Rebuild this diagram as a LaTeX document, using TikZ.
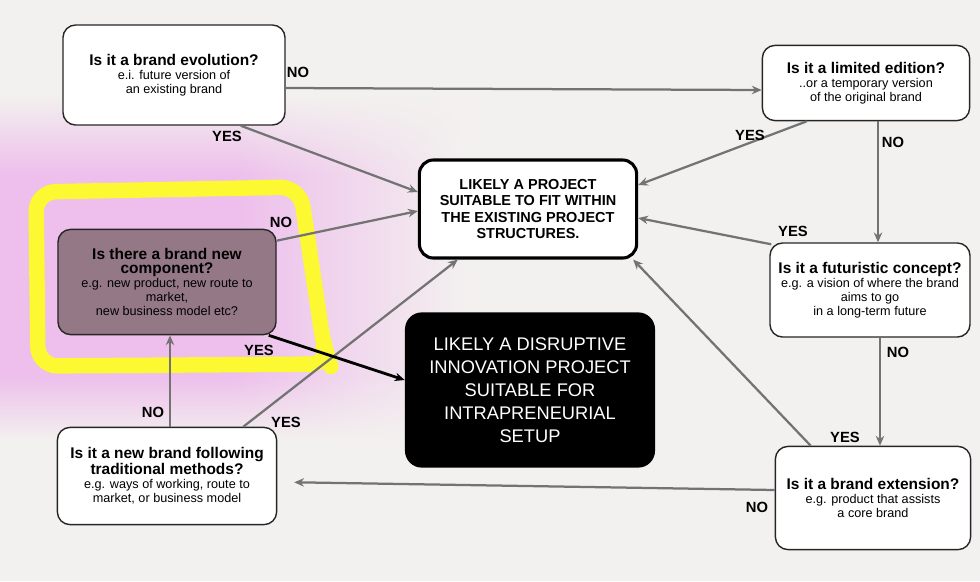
\documentclass[tikz,border=0pt]{standalone}
\usepackage{fontspec}
\setmainfont{Liberation Sans}
\usetikzlibrary{arrows.meta, calc, fadings}
\definecolor{paper}{RGB}{243,241,239}
\definecolor{pinkbg}{RGB}{238,190,236}
\definecolor{marker}{RGB}{252,248,50}
\definecolor{newcomp}{RGB}{148,120,133}
\newcommand{\qtitle}[1]{{\bfseries\fontsize{11}{11.5}\selectfont #1}}

\begin{document}
\begin{tikzpicture}[
    x=0.025cm, y=-0.025cm,
    question/.style={
        rectangle, rounded corners=9pt,
        draw=black!85, line width=1pt, fill=white,
        align=center, inner sep=2pt,
        font=\fontsize{9}{10}\selectfont
    },
    outcome/.style={
        rectangle, rounded corners=10pt,
        draw=black, line width=2.2pt, fill=white,
        align=center, font=\bfseries\fontsize{10.3}{11.8}\selectfont
    },
    arrow/.style={
        -{Stealth[length=7pt, width=6pt]}, line width=1.6pt, draw=black!55
    },
    lbl/.style={font=\bfseries\fontsize{10.5}{11}\selectfont},
    pinkwash/.style={left color=pinkbg, right color=paper, middle color=pinkbg},
    highlight/.style={draw=marker, line width=11, line cap=round, line join=round}
]
\useasboundingbox (0,0) rectangle (980,581);

% Paper and marker
\fill[paper] (0,0) rectangle (980,581);
\shade[pinkwash, path fading=north] (0,95) rectangle (470,175);
\shade[pinkwash] (0,175) rectangle (470,375);
\shade[pinkwash, path fading=south] (0,375) rectangle (470,440);
\draw[highlight, rounded corners=14] (38,366) -- (36,192) -- (300,187) -- (324,348) -- (330,364) -- cycle;

% Main components
\node[question, minimum width=5.55cm, minimum height=2.5cm] (evo) at (174,75)
    {\qtitle{Is it a brand evolution?}\\e.i. future version of\\an existing brand};
\node[question, minimum width=5.18cm, minimum height=1.88cm] (lim) at (866,83)
    {\qtitle{Is it a limited edition?}\\..or a temporary version\\of the original brand};
\node[outcome, minimum width=5.43cm, minimum height=2.45cm] (fit) at (528,209)
    {LIKELY A PROJECT\\SUITABLE TO FIT WITHIN\\THE EXISTING PROJECT\\STRUCTURES.};
\node[question, fill=newcomp, minimum width=5.45cm, minimum height=2.63cm] (comp) at (167,282)
    {\qtitle{Is there a brand new}\\\qtitle{component?}\\e.g. new product, new route to\\market,\\new business model etc?};
\node[question, minimum width=5.0cm, minimum height=2.35cm] (fut) at (870,290)
    {\qtitle{Is it a futuristic concept?}\\e.g. a vision of where the brand\\aims to go\\in a long-term future};
\node[rectangle, rounded corners=12pt, fill=black, text=white, align=center,
      minimum width=6.25cm, minimum height=3.88cm,
      font=\fontsize{13}{16.3}\selectfont] (disr) at (530,390)
    {LIKELY A DISRUPTIVE\\INNOVATION PROJECT\\SUITABLE FOR\\INTRAPRENEURIAL\\SETUP};
\node[question, minimum width=5.48cm, minimum height=2.43cm] (trad) at (167,476)
    {\qtitle{Is it a new brand following}\\\qtitle{traditional methods?}\\e.g. ways of working, route to\\market, or business model};
\node[question, minimum width=4.88cm, minimum height=2.58cm] (ext) at (873,498)
    {\qtitle{Is it a brand extension?}\\e.g. product that assists\\a core brand};

% Arrows
\draw[arrow] ($(evo.east)+(0,13)$) -- ($(lim.west)+(0,7)$);
\draw[arrow] ($(evo.south east)+(-45,0)$) -- ($(fit.west)+(0,-17)$);
\draw[arrow] ($(lim.south west)+(45,0)$) -- ($(fit.east)+(0,-24)$);
\draw[arrow] ($(lim.south)+(12,0)$) -- ($(fut.north)+(8,0)$);
\draw[arrow] ($(fut.north west)+(2,2)$) -- ($(fit.east)+(0,9)$);
\draw[arrow] ($(fut.south)+(10,0)$) -- ($(ext.north)+(7,0)$);
\draw[arrow] ($(ext.north west)+(36,0)$) -- ($(fit.south east)+(-5,0)$);
\draw[arrow, shorten >=12] ($(ext.west)+(0,-8)$) -- ($(trad.east)+(0,6)$);
\draw[arrow] ($(trad.north)+(3,0)$) -- ($(comp.south)+(3,0)$);
\draw[arrow] ($(trad.north east)+(-34,0)$) -- ($(fit.south west)+(40,0)$);
\draw[arrow] ($(comp.north east)+(0,12)$) -- ($(fit.west)+(0,2)$);
\draw[arrow, draw=black, line width=2pt] ($(comp.south east)+(-8,0)$) -- ($(disr.west)+(0,-10)$);

% Answers
\node[lbl] (evono) at (298,72) {NO};
\node[lbl] (evoyes) at (227,136) {YES};
\node[lbl] (limyes) at (750,135) {YES};
\node[lbl] (limno) at (893,142) {NO};
\node[lbl] (futyes) at (793,231) {YES};
\node[lbl] (futno) at (898,352) {NO};
\node[lbl] (extyes) at (845,437) {YES};
\node[lbl] (extno) at (757,507) {NO};
\node[lbl] (tradno) at (153,412) {NO};
\node[lbl] (tradyes) at (286,422) {YES};
\node[lbl] (compno) at (281,222) {NO};
\node[lbl] (compyes) at (259,350) {YES};

\end{tikzpicture}
\end{document}
